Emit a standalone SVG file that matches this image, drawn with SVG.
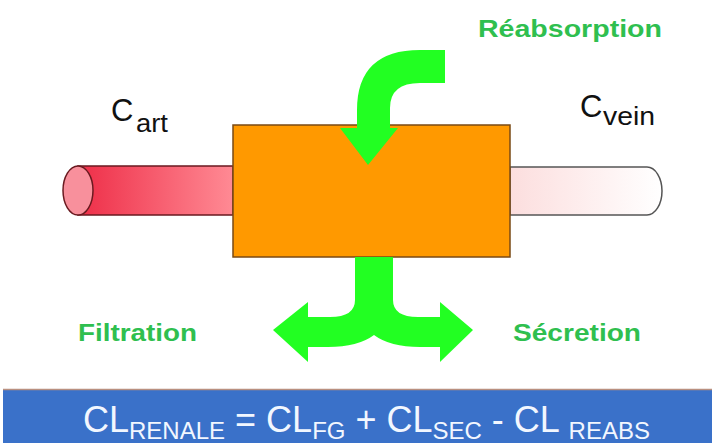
<svg xmlns="http://www.w3.org/2000/svg" width="712" height="443" viewBox="0 0 712 443">
<defs>
<linearGradient id="art" x1="0" y1="0" x2="1" y2="0"><stop offset="0" stop-color="#ee2e48"/><stop offset="1" stop-color="#ff8a94"/></linearGradient>
<linearGradient id="vein" x1="0" y1="0" x2="1" y2="0"><stop offset="0" stop-color="#fcdede"/><stop offset="1" stop-color="#ffffff"/></linearGradient>
<style>
.lbl{font-family:"Liberation Sans",Arial,sans-serif;font-weight:bold;font-size:24px;fill:#2fbf4f}
.c{font-family:"Liberation Sans",Arial,sans-serif;fill:#111}
.f{font-family:"Liberation Sans",Arial,sans-serif;fill:#f2f7ff;font-size:36px}
.sub{font-size:24px}
.arrow{fill:#22ff22}
</style>
</defs>
<rect width="712" height="443" fill="#fff"/>
<g id="artery">
<path d="M78 166 L233 166 L233 215 L78 215 Z" fill="url(#art)" stroke="#6a1a20" stroke-width="1.5"/>
<ellipse cx="78" cy="190.5" rx="15" ry="24.5" fill="#f8909c" stroke="#6a1a20" stroke-width="1.5"/>
<text class="c" x="111" y="121" font-size="31">C</text>
<text class="c" x="136" y="132" font-size="25" textLength="32" lengthAdjust="spacingAndGlyphs">art</text>
</g>
<g id="vein-tube">
<path d="M510 167 L647 167 A15 24 0 0 1 647 215 L510 215 Z" fill="url(#vein)" stroke="#555" stroke-width="1.5"/>
<text class="c" x="580" y="117" font-size="31">C</text>
<text class="c" x="603" y="125" font-size="25" textLength="52" lengthAdjust="spacingAndGlyphs">vein</text>
</g>
<g id="kidney">
<rect x="233" y="125" width="277" height="132" fill="#ff9900" stroke="#7a4a14" stroke-width="1.5"/>
</g>
<g id="connectors">
<path class="arrow" d="M445 50 L420 50 Q357 50 357 110 L357 128 L340 128 L368 165 L398 128 L390 128 L390 108 Q390 83 420 83 L445 83 Z"/>
<path class="arrow" d="M355 257 L393 257 L393 300 Q393 317 418 317 L440 317 L440 302 L473 330 L440 362 L440 347 L420 347 Q390 347 374 335 Q358 347 328 347 L308 347 L308 362 L273 330 L308 302 L308 317 L330 317 Q355 317 355 300 Z"/>
</g>
<g id="labels">
<text class="lbl" x="478" y="37" textLength="184" lengthAdjust="spacingAndGlyphs">Réabsorption</text>
<text class="lbl" x="78" y="341" textLength="119" lengthAdjust="spacingAndGlyphs">Filtration</text>
<text class="lbl" x="513" y="341" textLength="128" lengthAdjust="spacingAndGlyphs">Sécretion</text>
</g>
<g id="formula">
<rect x="3" y="389" width="712" height="56" fill="#3a71c9"/>
<line x1="3" y1="389.5" x2="712" y2="389.5" stroke="#b99080" stroke-width="1.5"/>
<text class="f" x="83" y="432">CL<tspan class="sub" dy="7">RENALE</tspan><tspan dy="-7"> = CL</tspan><tspan class="sub" dy="7">FG</tspan><tspan dy="-7"> + CL</tspan><tspan class="sub" dy="7">SEC</tspan><tspan dy="-7"> - CL </tspan><tspan class="sub" dy="7">REABS</tspan></text>
</g>
</svg>
